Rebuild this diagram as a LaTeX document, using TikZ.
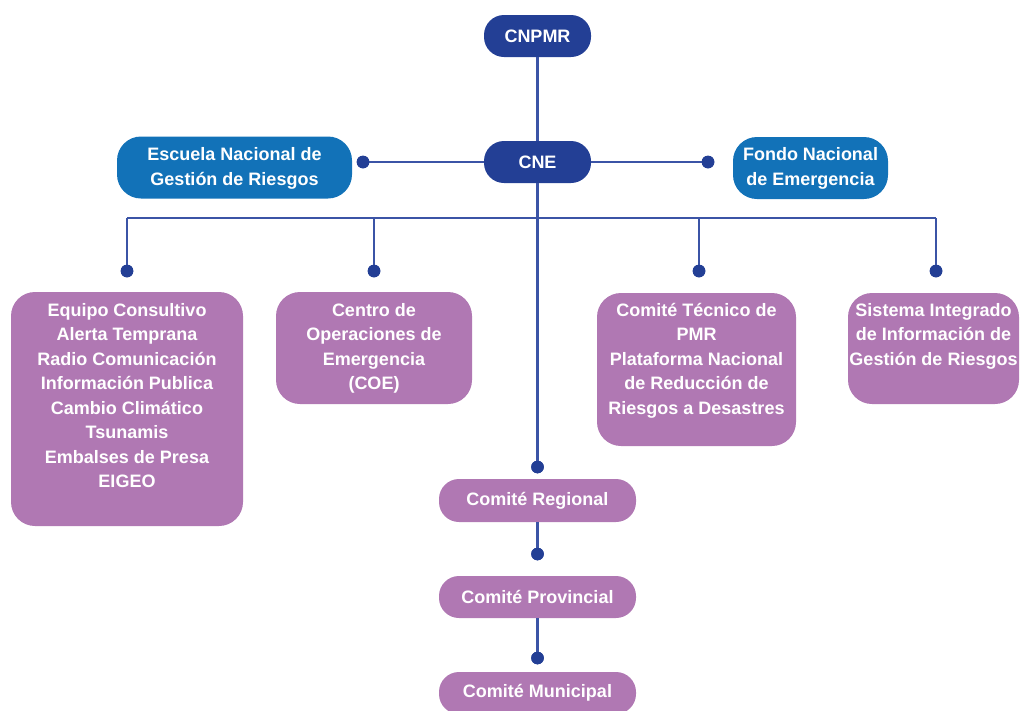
\documentclass[tikz,border=0pt]{standalone}
\usepackage{fontspec}
\setmainfont{Liberation Sans}
\definecolor{dkblue}{HTML}{233F95}
\definecolor{mdblue}{HTML}{1272B8}
\definecolor{purp}{HTML}{B078B3}
\definecolor{linec}{HTML}{3B54A6}
\begin{document}
\begin{tikzpicture}[x=1pt,y=-1pt,
  txt/.style={font=\fontsize{18}{24.5}\selectfont\bfseries, text=white, align=center},
  pill/.style={txt, rounded corners=20pt, inner sep=0pt},
  topbox/.style={fill=dkblue, pill},
  sidebox/.style={fill=mdblue, rounded corners=24pt, inner sep=0pt},
  purpbox/.style={fill=purp, rounded corners=24pt, inner sep=0pt},
  ptext/.style={txt, anchor=north, inner sep=0pt},
  ctext/.style={txt, inner sep=0pt},
  conn/.style={draw=linec, line width=2.2pt},
  dot/.style={circle, fill=dkblue, minimum size=12.6pt, inner sep=0pt}]
\useasboundingbox (0,0) rectangle (1023,710);

% top nodes
\node[topbox, minimum width=107pt, minimum height=42pt] (cnpmr) at (537.5,36) {CNPMR};
\node[topbox, minimum width=107pt, minimum height=42pt] (cne) at (537.5,162) {CNE};
\node[sidebox, minimum width=235pt, minimum height=62pt] (esc) at (234.5,167.5) {};
\node[sidebox, minimum width=155pt, minimum height=62pt] (fon) at (810.5,168) {};
\node[ctext] (escT) at (234.5,168.5) {Escuela Nacional de\\Gestión de Riesgos};
\node[ctext] (fonT) at (810.5,168.5) {Fondo Nacional\\de Emergencia};

% purple boxes
\node[purpbox, minimum width=232pt, minimum height=234pt] (b1) at (127,409) {};
\node[purpbox, minimum width=196pt, minimum height=112pt] (b2) at (374,348) {};
\node[purpbox, minimum width=199pt, minimum height=153pt] (b3) at (696.5,369.5) {};
\node[purpbox, minimum width=171pt, minimum height=111pt] (b4) at (933.5,348.5) {};
\node[ptext] (t1) at (127,303) {Equipo Consultivo\\Alerta Temprana\\Radio Comunicación\\Información Publica\\Cambio Climático\\Tsunamis\\Embalses de Presa\\EIGEO};
\node[ptext] (t2) at (374,303) {Centro de\\Operaciones de\\Emergencia\\(COE)};
\node[ptext] (t3) at (696.5,303) {Comité Técnico de\\PMR\\Plataforma Nacional\\de Reducción de\\Riesgos a Desastres};
\node[ptext] (t4) at (933.5,303) {Sistema Integrado\\de Información de\\Gestión de Riesgos};

% committees
\node[fill=purp, pill, minimum width=197pt, minimum height=43pt] (reg) at (537.5,500.5) {Comité Regional};
\node[fill=purp, pill, minimum width=197pt, minimum height=42pt] (prov) at (537.5,597) {Comité Provincial};
\node[fill=purp, pill, minimum width=197pt, minimum height=42pt] (mun) at (537.5,693) {Comité Municipal};

% connector points
\coordinate (busL) at (127,218);
\coordinate (busR) at (936,218);
\coordinate (busA) at (374,218);
\coordinate (busB) at (699,218);
\node[dot] (dEsc) at (363,162) {};
\node[dot] (dFon) at (708,162) {};
\node[dot] (d1) at (127,271) {};
\node[dot] (d2) at (374,271) {};
\node[dot] (d3) at (699,271) {};
\node[dot] (d4) at (936,271) {};
\node[dot] (dReg) at (537.5,467) {};
\node[dot] (dProv) at (537.5,554) {};
\node[dot] (dMun) at (537.5,658) {};

% connectors
\draw[conn] (cnpmr.south) -- (cne.north);
\draw[conn] (cne.south) -- (dReg.center);
\draw[conn] (cne.west) -- (dEsc.center);
\draw[conn] (cne.east) -- (dFon.center);
\draw[conn] (busL) -- (busR);
\draw[conn] (busL) -- (d1.center);
\draw[conn] (busA) -- (d2.center);
\draw[conn] (busB) -- (d3.center);
\draw[conn] (busR) -- (d4.center);
\draw[conn] (reg.south) -- (dProv.center);
\draw[conn] (prov.south) -- (dMun.center);
% dots on top of the lines
\foreach \d in {dEsc,dFon,d1,d2,d3,d4,dReg,dProv,dMun}
  \fill[dkblue] (\d.center) circle (6.3pt);
\end{tikzpicture}
\end{document}
